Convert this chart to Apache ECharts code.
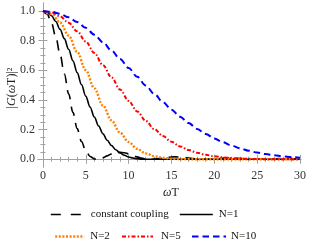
<!DOCTYPE html>
<html><head><meta charset="utf-8">
<script src="https://cdn.jsdelivr.net/npm/echarts@6/dist/echarts.min.js"></script>
<style>html,body{margin:0;padding:0;background:#fff}#c{width:309px;height:252px}</style>
</head><body><div id="c"></div>
<script>
// ---- data ----
const seriesNames = ['constant coupling', 'N=1', 'N=2', 'N=5', 'N=10'];
const xConst = [0,0.5,1,1.5,2,2.5,3,3.5,4,4.5,5,5.5,6,6.283,6.5,7,7.5,8,8.5,9,9.5,10,10.5,11,11.5,12,12.566,13,13.5,14,14.5,15,15.5,16,16.5,17,17.5,18,18.5,18.85,19,19.5,20,20.5,21,21.5,22,22.5,23,23.5,24,24.5,25.133,25.5,26,26.5,27,27.5,28,28.5,29,29.5,30];
const yConst = [1,0.9793,0.9195,0.8261,0.7081,0.5764,0.4422,0.3162,0.2067,0.1196,0.0573,0.0193,0.0022,0,0.0011,0.0100,0.0232,0.0358,0.0443,0.0472,0.0443,0.0368,0.0268,0.0165,0.0078,0.0022,0,0.0011,0.0044,0.0088,0.0129,0.0156,0.0165,0.0153,0.0125,0.0088,0.0051,0.0021,0.0004,0,0.0001,0.0011,0.0030,0.0052,0.0070,0.0082,0.0083,0.0073,0.0058,0.0038,0.0020,0.0007,0,0.0002,0.0010,0.0023,0.0035,0.0045,0.0050,0.0049,0.0042,0.0031,0.0019];
const xN1 = [0,0.5,1,1.5,2,2.5,3,3.5,4,4.5,5,5.5,6,6.5,7,7.5,8,8.5,9,9.5,10,10.5,11,11.5,12,12.5,13,14,15,16,18,20,25,30];
const yN1 = [1,0.9918,0.9678,0.9290,0.8767,0.8136,0.7419,0.6647,0.5844,0.5042,0.4261,0.3525,0.2850,0.2250,0.1727,0.1287,0.0928,0.0643,0.0427,0.0268,0.0157,0.0083,0.0039,0.0014,0.0003,0,0.0001,0.0006,0.0007,0.0005,0,0,0,0];
const xInt = [0,1,2,3,4,5,6,7,8,9,10,11,12,13,14,15,16,17,18,19,20,21,22,23,24,25,26,27,28,29,30];
const yN2 = [1,0.9802,0.9229,0.8343,0.7236,0.6014,0.4782,0.3630,0.2623,0.1798,0.1164,0.0706,0.0399,0.0206,0.0096,0.0039,0.0013,0.0003,0,0,0,0,0,0,0,0,0,0,0,0,0];
const yN5 = [1,0.9909,0.9639,0.9206,0.8630,0.7942,0.7173,0.6356,0.5526,0.4711,0.3939,0.3228,0.2592,0.2038,0.1569,0.1181,0.0870,0.0625,0.0438,0.0301,0.0201,0.0130,0.0082,0.0050,0.0030,0.0017,0.0009,0.0005,0.0003,0.0001,0.0001];
const yN10 = [1,0.9952,0.9809,0.9575,0.9257,0.8864,0.8405,0.7892,0.7339,0.6759,0.6163,0.5565,0.4975,0.4403,0.3859,0.3348,0.2875,0.2444,0.2051,0.1712,0.1410,0.1149,0.0927,0.0740,0.0584,0.0455,0.0351,0.0268,0.0202,0.0151,0.0111];
const xMajor = [0,5,10,15,20,25,30];
const xMinor = [1,2,3,4,6,7,8,9,11,12,13,14,16,17,18,19,21,22,23,24,26,27,28,29];
const yMajor = [0,0.2,0.4,0.6,0.8,1.0];
const yMinor = [0.05,0.1,0.15,0.25,0.3,0.35,0.45,0.5,0.55,0.65,0.7,0.75,0.85,0.9,0.95];

// ---- chart ----
const X_MIN = -0.573, X_MAX = 30.115, Y_MIN = -0.052, Y_MAX = 1.054;
const FRAME = '#a0a0a0';
const SERIF = '"Liberation Serif","DejaVu Serif",serif';
const pairs = (xs, ys) => xs.map((x, i) => [x, ys[i]]);

function xAx(pos, vals, len, line, labels) {
  return {
    type: 'value', position: pos, min: X_MIN, max: X_MAX,
    splitLine: {show: false},
    axisLine: {show: line, lineStyle: {color: FRAME, width: 1}},
    axisTick: {show: true, inside: true, length: len, customValues: vals, lineStyle: {color: FRAME, width: 1}},
    axisLabel: labels ? {show: true, customValues: vals, margin: 3, fontFamily: SERIF, fontSize: 12, color: '#333',
      formatter: v => String(Math.round(v))} : {show: false}
  };
}
function yAx(pos, vals, len, line, labels) {
  return {
    type: 'value', position: pos, min: Y_MIN, max: Y_MAX,
    splitLine: {show: false},
    axisLine: {show: line, lineStyle: {color: FRAME, width: 1}},
    axisTick: {show: true, inside: true, length: len, customValues: vals, lineStyle: {color: FRAME, width: 1}},
    axisLabel: labels ? {show: true, customValues: vals, margin: 3, fontFamily: SERIF, fontSize: 12, color: '#333',
      formatter: v => v.toFixed(1)} : {show: false}
  };
}

const styles = [
  {color: '#000000', width: 1.6, type: [10, 7]},
  {color: '#000000', width: 1.6, type: 'solid'},
  {color: '#ff8000', width: 2.4, type: [2, 1.6]},
  {color: '#ff0000', width: 2, type: [4, 2, 1.5, 2]},
  {color: '#0000ff', width: 2, type: [6.5, 4]}
];
const datas = [pairs(xConst, yConst), pairs(xN1, yN1), pairs(xInt, yN2), pairs(xInt, yN5), pairs(xInt, yN10)];

const series = seriesNames.map((n, i) => ({
  name: n, type: 'line', data: datas[i], xAxisIndex: 0, yAxisIndex: 0,
  symbol: 'none', showSymbol: false, smooth: 0.35, smoothMonotone: 'x',
  lineStyle: {color: styles[i].color, width: styles[i].width, type: styles[i].type, cap: 'butt'},
  itemStyle: {color: styles[i].color},
  z: 2 + i, animation: false
}));

// legend placement: [left, top, iconWidth, textPad, legendDash]
const legPos = [[50, 209, 30, 5, [10, 10]], [179, 209, 33, 1, 'solid'], [54, 231, 29, 1, [2, 1.6]], [121, 231, 31, 3, [4, 2, 1.5, 2]], [191, 231, 34, 0, [6.5, 4]]];
const legends = seriesNames.map((n, i) => ({
  data: [n], left: legPos[i][0], top: legPos[i][1], padding: 0,
  itemWidth: legPos[i][2], itemHeight: 10, selectedMode: false,
  itemStyle: {color: 'rgba(0,0,0,0)', borderWidth: 0, borderColor: 'rgba(0,0,0,0)', opacity: 0},
  lineStyle: {type: legPos[i][4], color: styles[i].color, width: styles[i].width, cap: 'butt'},
  textStyle: {fontFamily: SERIF, fontSize: 11, color: '#111', padding: [0, 0, 0, legPos[i][3]]}
}));

const chart = echarts.init(document.getElementById('c'), null, {renderer: 'canvas'});
chart.setOption({
  animation: false,
  backgroundColor: '#ffffff',
  grid: {left: 38, right: 3, top: 3, bottom: 85, containLabel: false},
  xAxis: [xAx('bottom', xMajor, 4.5, true, true), xAx('bottom', xMinor, 2.5, false, false),
          xAx('top', xMajor, 4.5, true, false), xAx('top', xMinor, 2.5, false, false)],
  yAxis: [yAx('left', yMajor, 4.5, true, true), yAx('left', yMinor, 2.5, false, false),
          yAx('right', yMajor, 4.5, true, false), yAx('right', yMinor, 2.5, false, false)],
  legend: legends,
  series: series,
  graphic: [
    {type: 'text', x: 12, y: 88, rotation: Math.PI / 2,
     style: {text: '|{i|G}({i|ω}T)|²', fontFamily: SERIF, fontSize: 12, fill: '#222', align: 'center', verticalAlign: 'middle',
       rich: {i: {fontStyle: 'italic', fontFamily: SERIF, fontSize: 12}}}},
    {type: 'text', x: 171, y: 193,
     style: {text: '{i|ω}T', fontFamily: SERIF, fontSize: 12, fill: '#222', align: 'center', verticalAlign: 'middle',
       rich: {i: {fontStyle: 'italic', fontFamily: SERIF, fontSize: 12}}}}
  ]
});
</script></body></html>
